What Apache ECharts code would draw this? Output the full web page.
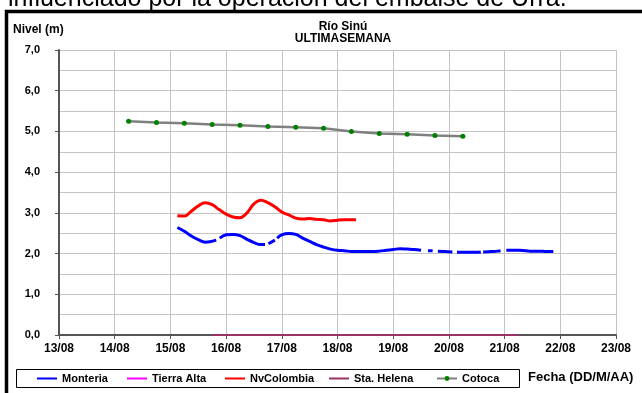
<!DOCTYPE html>
<html>
<head>
<meta charset="utf-8">
<script src="https://cdn.jsdelivr.net/npm/echarts@6/dist/echarts.min.js"></script>
<style>
html,body{margin:0;padding:0;background:#fff;}
#chart{width:642px;height:393px;}
</style>
</head>
<body>
<div id="chart"></div>
<script>
// ---- Data ----
const yTicks = [0, 1, 2, 3, 4, 5, 6, 7];
const xMin = '2013-08-13 00:00';
const xMax = '2013-08-23 00:00';
const seriesNames = ['Monteria', 'Tierra Alta', 'NvColombia', 'Sta. Helena', 'Cotoca'];

const monteria = [
  ['2013-08-15 03:00', 2.64], ['2013-08-15 06:00', 2.55], ['2013-08-15 09:00', 2.43],
  ['2013-08-15 12:00', 2.34], ['2013-08-15 15:00', 2.28], ['2013-08-15 17:00', 2.29],
  ['2013-08-15 19:45', 2.33], ['2013-08-15 20:30', null], ['2013-08-15 21:15', 2.38],
  ['2013-08-16 00:00', 2.46], ['2013-08-16 03:00', 2.47], ['2013-08-16 06:00', 2.44],
  ['2013-08-16 09:00', 2.35], ['2013-08-16 12:00', 2.27], ['2013-08-16 15:00', 2.22],
  ['2013-08-16 16:45', 2.22], ['2013-08-16 17:30', null], ['2013-08-16 18:15', 2.24],
  ['2013-08-16 21:00', 2.33], ['2013-08-16 21:30', null], ['2013-08-16 22:00', 2.38],
  ['2013-08-17 00:00', 2.46], ['2013-08-17 03:00', 2.49], ['2013-08-17 06:00', 2.47],
  ['2013-08-17 09:00', 2.38], ['2013-08-17 12:00', 2.30], ['2013-08-17 15:00', 2.22],
  ['2013-08-17 18:00', 2.16], ['2013-08-17 21:00', 2.11], ['2013-08-18 00:00', 2.08],
  ['2013-08-18 03:00', 2.07], ['2013-08-18 06:00', 2.05], ['2013-08-18 09:00', 2.05],
  ['2013-08-18 12:00', 2.05], ['2013-08-18 15:00', 2.05], ['2013-08-18 18:00', 2.06],
  ['2013-08-18 21:00', 2.08], ['2013-08-19 00:00', 2.10], ['2013-08-19 03:00', 2.12],
  ['2013-08-19 06:00', 2.11], ['2013-08-19 09:00', 2.10], ['2013-08-19 12:00', 2.08],
  ['2013-08-19 13:30', null], ['2013-08-19 15:00', 2.07], ['2013-08-19 17:00', 2.07],
  ['2013-08-19 18:00', null], ['2013-08-19 19:15', 2.06], ['2013-08-19 22:30', 2.05],
  ['2013-08-20 01:30', 2.04], ['2013-08-20 02:30', null], ['2013-08-20 03:30', 2.03],
  ['2013-08-20 06:00', 2.03], ['2013-08-20 09:00', 2.03], ['2013-08-20 12:00', 2.03],
  ['2013-08-20 13:45', 2.04], ['2013-08-20 14:15', null], ['2013-08-20 14:45', 2.04],
  ['2013-08-20 18:00', 2.05], ['2013-08-20 21:00', 2.06], ['2013-08-20 22:15', 2.07],
  ['2013-08-20 23:30', null], ['2013-08-21 00:45', 2.08], ['2013-08-21 03:00', 2.08],
  ['2013-08-21 06:00', 2.08], ['2013-08-21 09:00', 2.07], ['2013-08-21 12:00', 2.06],
  ['2013-08-21 15:00', 2.06], ['2013-08-21 18:00', 2.05], ['2013-08-21 21:00', 2.05]
];

const nvColombia = [
  ['2013-08-15 03:00', 2.93], ['2013-08-15 06:00', 2.92], ['2013-08-15 09:00', 3.04],
  ['2013-08-15 12:00', 3.17], ['2013-08-15 15:00', 3.25], ['2013-08-15 18:00', 3.20],
  ['2013-08-15 21:00', 3.08], ['2013-08-16 00:00', 2.97], ['2013-08-16 03:00', 2.90],
  ['2013-08-16 06:00', 2.88], ['2013-08-16 09:00', 3.00], ['2013-08-16 12:00', 3.22],
  ['2013-08-16 15:00', 3.31], ['2013-08-16 18:00', 3.25], ['2013-08-16 21:00', 3.15],
  ['2013-08-17 00:00', 3.02], ['2013-08-17 03:00', 2.95], ['2013-08-17 06:00', 2.87],
  ['2013-08-17 09:00', 2.85], ['2013-08-17 12:00', 2.86], ['2013-08-17 15:00', 2.84],
  ['2013-08-17 18:00', 2.83], ['2013-08-17 21:00', 2.80], ['2013-08-18 00:00', 2.82],
  ['2013-08-18 03:00', 2.83], ['2013-08-18 06:00', 2.83], ['2013-08-18 08:00', 2.83]
];

const tierraAlta = [
  ['2013-08-15 18:00', 0], ['2013-08-16 06:00', 0], ['2013-08-16 18:00', 0],
  ['2013-08-17 06:00', 0], ['2013-08-17 18:00', 0], ['2013-08-18 06:00', 0],
  ['2013-08-18 18:00', 0], ['2013-08-19 06:00', 0], ['2013-08-19 18:00', 0],
  ['2013-08-20 06:00', 0], ['2013-08-20 18:00', 0], ['2013-08-21 06:00', 0]
];

const staHelena = [
  ['2013-08-15 18:00', 0], ['2013-08-16 06:00', 0], ['2013-08-16 18:00', 0],
  ['2013-08-17 06:00', 0], ['2013-08-17 18:00', 0], ['2013-08-18 06:00', 0],
  ['2013-08-18 18:00', 0], ['2013-08-19 06:00', 0], ['2013-08-19 18:00', 0],
  ['2013-08-20 06:00', 0], ['2013-08-20 18:00', 0], ['2013-08-21 06:00', 0]
];

const cotoca = [
  ['2013-08-14 06:00', 5.25], ['2013-08-14 18:00', 5.22], ['2013-08-15 06:00', 5.20],
  ['2013-08-15 18:00', 5.17], ['2013-08-16 06:00', 5.15], ['2013-08-16 18:00', 5.12],
  ['2013-08-17 06:00', 5.10], ['2013-08-17 18:00', 5.08], ['2013-08-18 06:00', 5.00],
  ['2013-08-18 18:00', 4.95], ['2013-08-19 06:00', 4.93], ['2013-08-19 18:00', 4.90],
  ['2013-08-20 06:00', 4.88]
];

// ---- Chart ----
const FONT = 'Arial, "Liberation Sans", sans-serif';
const DAY = 86400000;
const pad = n => (n < 10 ? '0' : '') + n;
const legendLefts = [36, 126, 224, 328, 436];
const legendHasSymbol = [false, false, false, false, true];

const legends = seriesNames.map((name, i) => ({
  data: [legendHasSymbol[i] ? {name: name} : {name: name, itemStyle: {opacity: 0}}],
  left: legendLefts[i], top: 373, padding: 0,
  itemWidth: 20, itemHeight: 6, itemGap: 0,
  textStyle: {fontFamily: FONT, fontSize: 11, fontWeight: 'bold', color: '#000'}
}));

const chart = echarts.init(document.getElementById('chart'), null, {renderer: 'canvas'});
chart.setOption({
  animation: false,
  backgroundColor: '#ffffff',
  title: {
    text: 'Río Sinú\nULTIMASEMANA',
    left: 338, top: 16, textAlign: 'center',
    textStyle: {fontFamily: FONT, fontSize: 12, fontWeight: 'bold', color: '#000', lineHeight: 12}
  },
  grid: {left: 59, right: 26, top: 50, height: 285, containLabel: false},
  xAxis: {
    type: 'time',
    min: xMin, max: xMax,
    minInterval: DAY, maxInterval: DAY,
    axisLine: {lineStyle: {color: '#555', width: 2}},
    axisTick: {show: true, length: 4, lineStyle: {color: '#555', width: 1}},
    axisLabel: {
      margin: 8, fontFamily: FONT, fontSize: 12, fontWeight: 'bold', color: '#000',
      showMinLabel: true, showMaxLabel: true,
      formatter: v => { const d = new Date(v); return pad(d.getDate()) + '/' + pad(d.getMonth() + 1); }
    },
    splitLine: {show: true, lineStyle: {color: '#c4c4c4', width: 1}}
  },
  yAxis: {
    type: 'value',
    min: yTicks[0], max: yTicks[yTicks.length - 1], interval: 1,
    axisLine: {show: true, lineStyle: {color: '#555', width: 2}},
    axisTick: {show: true, length: 4, lineStyle: {color: '#555', width: 1}},
    axisLabel: {
      margin: 19, fontFamily: FONT, fontSize: 11, fontWeight: 'bold', color: '#000',
      formatter: v => v.toFixed(1).replace('.', ',')
    },
    splitLine: {show: true, lineStyle: {color: '#c4c4c4', width: 1}},
    minorTick: {show: false, splitNumber: 2},
    minorSplitLine: {show: true, lineStyle: {color: '#c4c4c4', width: 1}}
  },
  legend: legends,
  graphic: [
    {type: 'rect', silent: true, z: 100, shape: {x: 6.5, y: 11.5, width: 700, height: 500},
      style: {fill: 'none', stroke: '#000', lineWidth: 3.5}},
    {type: 'rect', silent: true, shape: {x: 16.5, y: 369.5, width: 503, height: 18},
      style: {fill: 'none', stroke: '#000', lineWidth: 1}},
    {type: 'text', silent: true, left: 13, top: 24,
      style: {text: 'Nivel (m)', fontFamily: FONT, fontSize: 12, fontWeight: 'bold', fill: '#000'}},
    {type: 'text', silent: true, left: 528, top: 371,
      style: {text: 'Fecha (DD/M/AA)', fontFamily: FONT, fontSize: 13, fontWeight: 'bold', fill: '#000'}},
    {type: 'text', silent: true, x: 8, y: 12,
      style: {text: 'influenciado por la operación del embalse de Urrá.', fontFamily: FONT, fontSize: 25,
        fill: '#000', verticalAlign: 'bottom'}}
  ],
  series: [
    {name: 'Monteria', type: 'line', data: monteria, smooth: 0.4, symbol: 'none', connectNulls: false,
      color: '#0000ff', lineStyle: {color: '#0000ff', width: 3}, z: 4},
    {name: 'Tierra Alta', type: 'line', data: tierraAlta, symbol: 'none', clip: false,
      color: '#ff00ff', lineStyle: {color: '#ff00ff', width: 1.5}, z: 3},
    {name: 'NvColombia', type: 'line', data: nvColombia, smooth: 0.4, symbol: 'none',
      color: '#ff0000', lineStyle: {color: '#ff0000', width: 3}, z: 4},
    {name: 'Sta. Helena', type: 'line', data: staHelena, symbol: 'none', clip: false,
      color: '#993366', lineStyle: {color: '#993366', width: 2}, z: 5},
    {name: 'Cotoca', type: 'line', data: cotoca, symbol: 'circle', symbolSize: 5,
      color: '#008000', itemStyle: {color: '#008000', borderWidth: 0},
      lineStyle: {color: '#808080', width: 2.5}, z: 4}
  ]
});
</script>
</body>
</html>
